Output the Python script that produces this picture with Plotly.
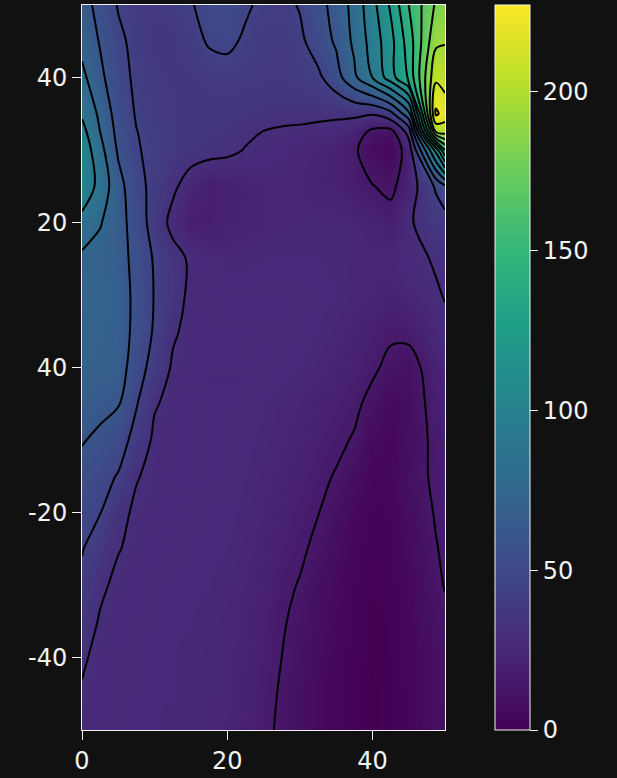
import plotly.graph_objects as go

# grid coordinates
x_values = [0, 2.5, 5, 7.5, 10, 12.5, 15, 17.5, 20, 22.5, 25, 27.5, 30, 32.5, 35, 37.5, 40, 42.5, 45, 48.75, 50]
y_values = [-50, -45, -40, -35, -30, -25, -20, -15, -10, -5, 0, 5, 10, 15, 20, 25, 30, 32.5, 35, 40, 45, 50]

# z values, one row per y value
z_ym50 = [27, 26, 25.5, 25, 25, 24.5, 24, 23.5, 23, 21, 17, 13.5, 10, 6, 3, 1, 0, 1, 3, 9, 11]
z_ym45 = [29, 27, 26, 25.5, 25, 25, 24.5, 24, 23.5, 21.5, 18, 14, 10, 6, 3, 1, 0, 1, 3, 9.5, 11.5]
z_ym40 = [31.5, 27, 26, 25.5, 25, 25, 24.5, 24, 24, 22, 19, 15, 11, 7, 3.5, 1.5, 0.5, 1, 3.5, 10, 12]
z_ym35 = [36, 29, 26.5, 26, 25.5, 25, 25, 24.5, 24, 22.5, 20, 16, 12.5, 8.5, 4.5, 2, 0.5, 1, 4, 11, 13]
z_ym30 = [41, 32, 27.5, 26.5, 25.5, 25.5, 25, 25, 24.5, 23, 21, 17, 14.5, 9.5, 5.5, 2.5, 1, 1.5, 5, 13, 15.5]
z_ym25 = [46, 36, 30.5, 27.5, 26.5, 26, 25.5, 25, 25, 24, 22, 19.5, 16.5, 13, 7.5, 3.5, 1.5, 2, 6, 14.5, 16.5]
z_ym20 = [50, 45.5, 32.5, 28.5, 27, 26.5, 26, 25.5, 25.5, 24.5, 23, 21, 18.5, 15.3, 10.5, 5, 2, 3, 8, 15.8, 18]
z_ym15 = [55, 50, 44, 30.5, 28, 27, 26.5, 26, 26, 25, 24, 22.5, 20.5, 17.5, 14.2, 8.5, 3, 4, 10, 17, 19]
z_ym10 = [61, 57, 52, 39.5, 27.5, 27, 26.5, 26, 26, 25.5, 24.5, 23.5, 22, 20, 17.5, 14, 6, 4, 8, 18, 20]
z_ym05 = [66, 64, 61, 46, 31, 27, 26.5, 26, 26, 26, 25, 24, 23, 21.5, 19.5, 17.5, 11.5, 5, 9, 19, 21]
z_y00 = [70, 69, 67, 52, 39, 28.5, 27, 26.5, 26.5, 26.5, 26, 25.5, 25, 24, 22.5, 20.5, 17, 12, 10, 21.5, 24]
z_y05 = [71, 70, 68, 55.5, 43.3, 31.5, 27, 26.5, 26.5, 26.5, 26.5, 26, 25.5, 25, 24, 22.5, 20, 17, 18, 25.5, 28]
z_y10 = [73, 72, 69, 55.5, 44.3, 35.1, 27.5, 26.5, 26, 26, 26, 26, 26, 25.5, 25, 24, 23, 22, 24, 29, 30.5]
z_y15 = [72, 70, 66.5, 55, 43.5, 35, 28, 26, 24.5, 24.5, 25, 25, 25, 25, 24.5, 24, 23.5, 24, 27, 31, 33]
z_y20 = [85, 76, 66, 53, 39, 26, 19, 19, 21, 22, 23, 23.5, 24, 24, 24, 23.5, 22, 20, 28.5, 37, 38]
z_y25 = [101, 85, 65, 50.2, 40.3, 32.5, 24, 19, 20, 22, 23, 23, 23, 22, 21, 18, 15.5, 12, 22, 47, 58]
z_y30 = [100, 80, 58, 46, 42, 38, 35.5, 34, 32.5, 29.5, 27, 25.5, 24, 22.5, 21, 17, 7, 4, 22, 110, 150]
z_y32 = [95, 75, 55.5, 45.3, 41, 38, 36.3, 35.3, 34.3, 32, 29.8, 28.5, 28, 27, 26, 22, 12, 10, 35, 195, 200]
z_y35 = [88, 72, 53, 44, 39.5, 38, 37, 36.5, 36, 35, 34, 33.5, 33, 32.5, 32, 32.5, 31, 40, 70, 228, 218]
z_y40 = [79, 63, 51, 42, 38.5, 37.5, 37.5, 38.5, 39.5, 39, 38, 37.5, 39, 42, 54, 72, 90, 113, 138, 207, 204]
z_y45 = [70, 59, 48, 41, 37, 36.5, 40, 46.5, 48, 43, 38.5, 39, 42, 52, 62, 78, 96, 115, 142, 192, 194]
z_y50 = [65, 56, 44, 40, 38, 40, 44, 50, 52, 47, 42, 41, 46, 55, 65, 80, 100, 122, 150, 182, 184]

z_rows = [z_ym50, z_ym45, z_ym40, z_ym35, z_ym30, z_ym25, z_ym20, z_ym15, z_ym10, z_ym05,
          z_y00, z_y05, z_y10, z_y15, z_y20, z_y25, z_y30, z_y32, z_y35, z_y40, z_y45, z_y50]

x_tick_vals = [0, 20, 40]
x_tick_text = ["0", "20", "40"]
y_tick_vals = [-40, -20, 0, 20, 40]
y_tick_text = ["-40", "-20", "40", "20", "40"]
cbar_tick_vals = [0, 50, 100, 150, 200]

FONT = "DejaVu Sans"
FG = "#f2f2f2"
BG = "#111111"
Z_MIN, Z_MAX = 0, 227

fig = go.Figure()

# smooth colour bar (same data, drawn beneath the contour)
fig.add_trace(
    go.Heatmap(
        x=x_values,
        y=y_values,
        z=z_rows,
        zsmooth="best",
        colorscale="Viridis",
        zmin=Z_MIN,
        zmax=Z_MAX,
        hoverinfo="skip",
        colorbar=dict(
            x=1.138,
            xanchor="left",
            y=0.5,
            yanchor="middle",
            len=1.0,
            lenmode="fraction",
            ypad=0,
            xpad=0,
            thickness=35,
            outlinewidth=1,
            outlinecolor=FG,
            ticks="outside",
            ticklen=8,
            tickcolor=FG,
            tickprefix="\u00a0",
            tickfont=dict(family=FONT, size=24, color=FG),
            tickvals=cbar_tick_vals,
        ),
    )
)

fig.add_trace(
    go.Contour(
        x=x_values,
        y=y_values,
        z=z_rows,
        colorscale="Viridis",
        zmin=Z_MIN,
        zmax=Z_MAX,
        showscale=False,
        contours=dict(coloring="heatmap", start=15, end=225, size=15, showlabels=False),
        line=dict(color="black", width=2),
    )
)

axis_common = dict(
    showgrid=False,
    zeroline=False,
    showline=True,
    mirror=True,
    linecolor=FG,
    linewidth=1,
    ticks="outside",
    ticklen=9,
    tickcolor=FG,
    automargin=False,
    tickfont=dict(family=FONT, size=24, color=FG),
)

fig.update_xaxes(range=[0, 50], tickvals=x_tick_vals, ticktext=x_tick_text, **axis_common)
fig.update_yaxes(range=[-50, 50], tickvals=y_tick_vals, ticktext=y_tick_text, **axis_common)

fig.update_layout(
    width=617,
    height=778,
    margin=dict(l=82, r=172, t=5, b=48, autoexpand=False),
    paper_bgcolor=BG,
    plot_bgcolor=BG,
    font=dict(family=FONT, color=FG),
    showlegend=False,
)

fig.write_html(
    "out.html",
    config={"displayModeBar": False},
    post_script="document.body.style.margin='0';document.body.style.background='#111111';",
)
